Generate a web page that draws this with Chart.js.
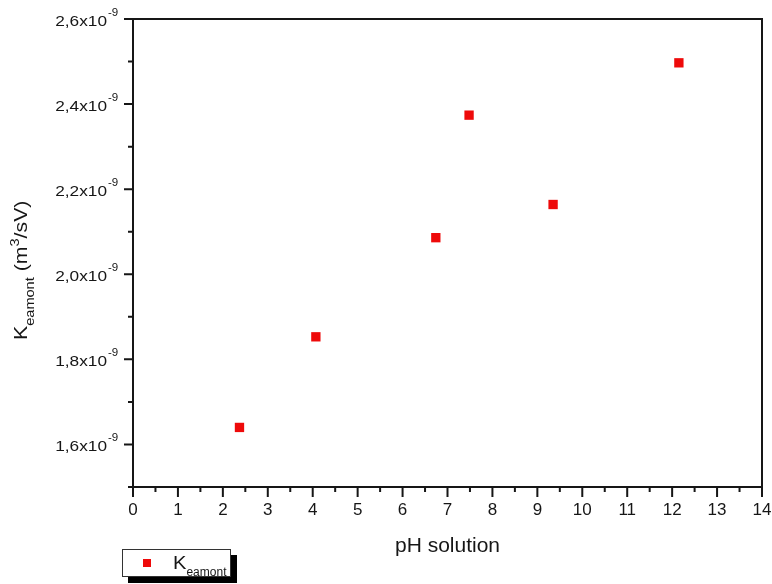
<!DOCTYPE html>
<html>
<head>
<meta charset="utf-8">
<script src="https://cdn.jsdelivr.net/npm/chart.js@4.4.0/dist/chart.umd.min.js"></script>
<style>
  body { margin: 0; background: #fff; }
  #wrap { width: 772px; height: 584px; }
</style>
</head>
<body>
<div id="wrap"><canvas id="c" width="772" height="584"></canvas></div>
<script>
// data
const phValues = [2.37, 4.07, 6.74, 7.48, 9.35, 12.15];
const kValues = [1.640e-9, 1.853e-9, 2.086e-9, 2.374e-9, 2.164e-9, 2.497e-9];

const xTicks = [0, 1, 2, 3, 4, 5, 6, 7, 8, 9, 10, 11, 12, 13, 14];
const xMinor = [0.5, 1.5, 2.5, 3.5, 4.5, 5.5, 6.5, 7.5, 8.5, 9.5, 10.5, 11.5, 12.5, 13.5];
const yTicks = [1.6e-9, 1.8e-9, 2.0e-9, 2.2e-9, 2.4e-9, 2.6e-9];
const yTickLabels = ['1,6', '1,8', '2,0', '2,2', '2,4', '2,6'];
const yMinor = [1.5e-9, 1.7e-9, 1.9e-9, 2.1e-9, 2.3e-9, 2.5e-9];

const xTitle = 'pH solution';
const seriesName = 'K';
const seriesSub = 'eamont';

const INK = '#161616';
const RED = '#ee0a0a';
const FONT = '"Liberation Sans", Arial, sans-serif';

// draws a row of text pieces (normal / sub / sup), stretched by sx along the line
function richText(ctx, parts, x, y, sx) {
    let cx = x;
    parts.forEach(p => {
        const s = p.sx || sx;
        ctx.font = p.size + 'px ' + FONT;
        const w = ctx.measureText(p.t).width * s;
        ctx.fillStyle = INK;
        ctx.save();
        ctx.translate(cx, y + (p.dy || 0));
        ctx.scale(s, 1);
        ctx.textAlign = 'left';
        ctx.textBaseline = 'alphabetic';
        ctx.fillText(p.t, 0, 0);
        ctx.restore();
        cx += w;
    });
    return cx - x;
}

const axesPlugin = {
    id: 'originAxes',
    afterDatasetsDraw(chart) {
        const ctx = chart.ctx;
        const xs = chart.scales.x, ys = chart.scales.y;
        const a = chart.chartArea;
        ctx.save();
        ctx.strokeStyle = INK;
        ctx.lineWidth = 2;

        // frame
        ctx.beginPath();
        ctx.rect(a.left, a.top, a.right - a.left, a.bottom - a.top);
        ctx.stroke();

        // ticks
        ctx.beginPath();
        xTicks.forEach(v => { const px = xs.getPixelForValue(v); ctx.moveTo(px, a.bottom); ctx.lineTo(px, a.bottom + 10); });
        xMinor.forEach(v => { const px = xs.getPixelForValue(v); ctx.moveTo(px, a.bottom); ctx.lineTo(px, a.bottom + 5); });
        yTicks.forEach(v => { const py = ys.getPixelForValue(v); ctx.moveTo(a.left, py); ctx.lineTo(a.left - 9, py); });
        yMinor.forEach(v => { const py = ys.getPixelForValue(v); ctx.moveTo(a.left, py); ctx.lineTo(a.left - 5, py); });
        ctx.stroke();

        // x tick labels
        ctx.fillStyle = INK;
        ctx.font = '17px ' + FONT;
        ctx.textAlign = 'center';
        ctx.textBaseline = 'alphabetic';
        xTicks.forEach(v => ctx.fillText(String(v), xs.getPixelForValue(v), a.bottom + 28));

        // y tick labels  "2,6x10^-9"
        yTicks.forEach((v, i) => {
            const py = ys.getPixelForValue(v);
            ctx.font = '15px ' + FONT;
            const main = yTickLabels[i] + 'x10';
            const w = ctx.measureText(main).width * 1.15;
            richText(ctx, [{ t: main, size: 15 }], a.left - 26 - w, py + 7, 1.15);
            richText(ctx, [{ t: '-9', size: 11 }], a.left - 25, py - 3, 1.05);
        });

        // x title
        ctx.fillStyle = INK;
        ctx.font = '21px ' + FONT;
        ctx.textAlign = 'center';
        ctx.fillText(xTitle, (a.left + a.right) / 2, a.bottom + 65);

        // y title, rotated
        ctx.save();
        ctx.translate(27, 340);
        ctx.rotate(-Math.PI / 2);
        richText(ctx, [
            { t: 'K', size: 19 },
            { t: 'eamont', size: 13, dy: 7 },
            { t: ' (m', size: 19 },
            { t: '3', size: 13, dy: -8 },
            { t: '/sV)', size: 19 }
        ], 0, 0, 1.12);
        ctx.restore();

        // legend box with drop shadow
        ctx.fillStyle = '#000';
        ctx.fillRect(128, 555, 109, 28);
        ctx.fillStyle = '#fff';
        ctx.fillRect(122, 549, 109, 28);
        ctx.lineWidth = 1;
        ctx.strokeStyle = '#333';
        ctx.strokeRect(122.5, 549.5, 108, 27);
        ctx.fillStyle = RED;
        ctx.fillRect(143, 559, 8, 8);
        richText(ctx, [
            { t: seriesName, size: 18 },
            { t: seriesSub, size: 12, dy: 7, sx: 1.0 }
        ], 173, 569, 1.12);

        ctx.restore();
    }
};

new Chart(document.getElementById('c'), {
    type: 'scatter',
    data: {
        datasets: [{
            label: seriesName + seriesSub,
            data: phValues.map((x, i) => ({ x: x, y: kValues[i] })),
            pointStyle: 'rect',
            pointRadius: 6.6,
            pointHoverRadius: 6.6,
            backgroundColor: RED,
            borderWidth: 0
        }]
    },
    options: {
        responsive: false,
        animation: false,
        events: [],
        layout: { padding: { left: 133, right: 10, top: 19, bottom: 97 } },
        scales: {
            x: { type: 'linear', min: 0, max: 14, display: false },
            y: { type: 'linear', min: 1.5e-9, max: 2.6e-9, display: false }
        },
        plugins: { legend: { display: false }, tooltip: { enabled: false } }
    },
    plugins: [axesPlugin]
});
</script>
</body>
</html>
